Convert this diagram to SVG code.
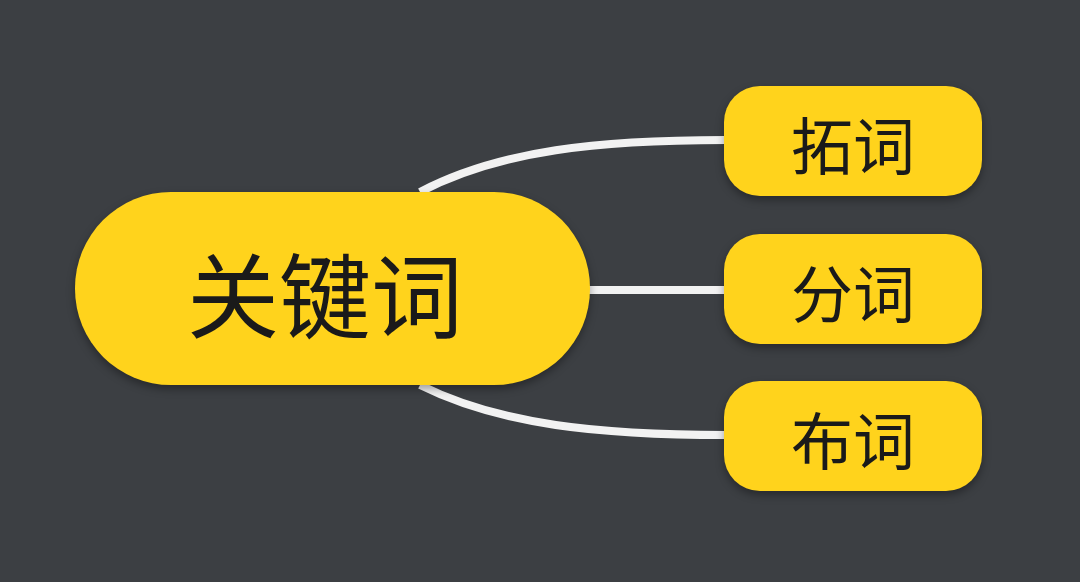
<svg xmlns="http://www.w3.org/2000/svg" width="1080" height="582" viewBox="0 0 1080 582">
<style>
.n{fill:#FFD31C;filter:drop-shadow(0 4px 4px rgba(0,0,0,0.35))}
.t{font-family:"Noto Sans CJK SC",sans-serif;fill:#1a1a1a;text-anchor:middle;dominant-baseline:central}
.c{fill:none;stroke:#F2F2F2;stroke-width:8}
</style>
<rect width="1080" height="582" fill="#3C3F43"/>
<g id="connectors">
<path class="c" d="M420 192 C500 150 600 140 726 140"/>
<path class="c" d="M585 290 L726 290"/>
<path class="c" d="M420 385 C500 425 600 435 726 435"/>
</g>
<g id="main"><rect class="n" x="75" y="192" width="515" height="193" rx="96"/><text class="t" x="325" y="290" font-size="92">关键词</text></g>
<g id="n1"><rect class="n" x="724" y="86" width="258" height="110" rx="36"/><text class="t" x="853" y="143" font-size="62">拓词</text></g>
<g id="n2"><rect class="n" x="724" y="234" width="258" height="110" rx="36"/><text class="t" x="853" y="291" font-size="62">分词</text></g>
<g id="n3"><rect class="n" x="724" y="381" width="258" height="110" rx="36"/><text class="t" x="853" y="438" font-size="62">布词</text></g>
</svg>
